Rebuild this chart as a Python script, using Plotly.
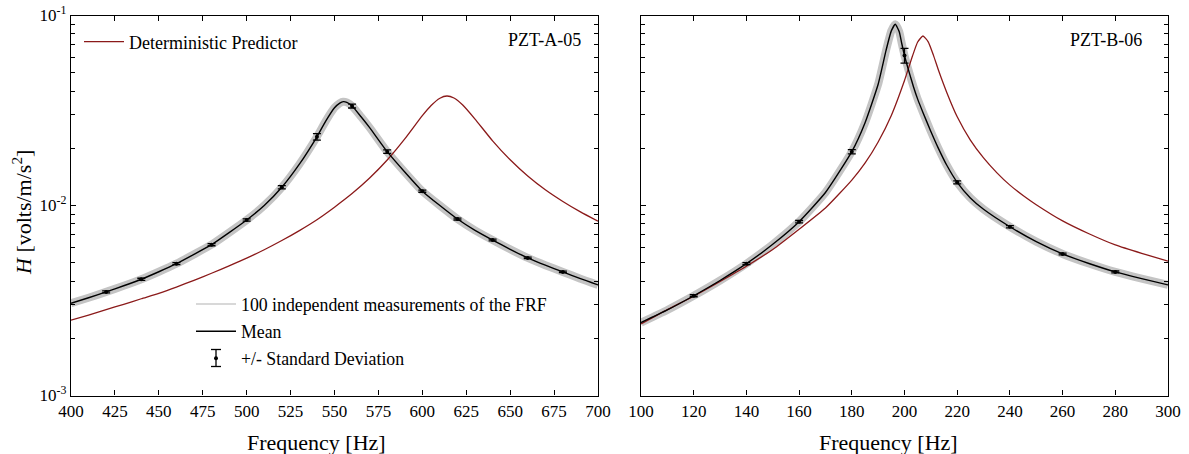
import plotly.graph_objects as go

# ---------------- data ----------------
# PZT-A-05 : measured mean FRF
freq_a = [400, 410, 420, 430, 440, 450, 460, 470, 480, 490, 500, 510, 520, 530, 540,
          545, 550, 553, 555, 557, 560, 565, 570, 580, 590, 600, 610, 620, 630, 640,
          650, 660, 670, 680, 690, 700]
mean_a = [0.00306, 0.00327, 0.00351, 0.00378, 0.00409, 0.00448, 0.00494, 0.00553,
          0.00622, 0.00720, 0.00839, 0.0100, 0.01247, 0.0165, 0.0230, 0.0278, 0.0327,
          0.0346, 0.0352, 0.0349, 0.0334, 0.0294, 0.0257, 0.0192, 0.0150, 0.0119,
          0.0100, 0.00849, 0.00740, 0.00658, 0.00588, 0.00530, 0.00485, 0.00447,
          0.00412, 0.00382]
# PZT-A-05 : deterministic prediction
pred_freq_a = [400, 410, 420, 430, 440, 450, 460, 470, 480, 490, 500, 510, 520, 530,
               540, 550, 560, 570, 580, 590, 600, 605, 610, 614, 618, 623, 630, 640,
               650, 660, 670, 680, 690, 700]
pred_a = [0.00249, 0.00265, 0.00283, 0.00302, 0.00323, 0.00345, 0.00372, 0.00404,
          0.00440, 0.00481, 0.00528, 0.00585, 0.00654, 0.00738, 0.00842, 0.00980,
          0.01155, 0.01395, 0.01735, 0.0224, 0.0297, 0.0336, 0.0367, 0.0377, 0.0368,
          0.0338, 0.0285, 0.0219, 0.0174, 0.0143, 0.0121, 0.0105, 0.00925, 0.00826]
# PZT-A-05 : mean +/- standard deviation markers
err_freq_a = [420, 440, 460, 480, 500, 520, 540, 560, 580, 600, 620, 640, 660, 680]
err_mean_a = [0.00351, 0.00409, 0.00494, 0.00622, 0.00839, 0.01247, 0.0230, 0.0334,
              0.0192, 0.0119, 0.00849, 0.00658, 0.00530, 0.00447]
err_std_a = [0.00004, 0.00005, 0.00006, 0.00008, 0.00012, 0.00025, 0.0009, 0.0008,
             0.0004, 0.00016, 0.0001, 0.00007, 0.00005, 0.00004]

# PZT-B-06 : measured mean FRF
freq_b = [100, 110, 120, 130, 140, 150, 160, 170, 180, 185, 190, 193, 195, 196.5,
          198, 199, 200, 201, 202, 203.4, 205, 207, 209.8, 213, 216, 220, 225, 230,
          240, 250, 260, 270, 280, 290, 300]
mean_b = [0.00242, 0.00282, 0.00335, 0.00403, 0.00494, 0.00625, 0.00822, 0.0117,
          0.0192, 0.0272, 0.0435, 0.0655, 0.0830, 0.0899, 0.0822, 0.0708, 0.0616,
          0.0547, 0.0490, 0.0422, 0.0363, 0.0309, 0.0249, 0.0198, 0.01633, 0.01324,
          0.01096, 0.00955, 0.00773, 0.00645, 0.00556, 0.00495, 0.00447, 0.00412,
          0.00382]
# PZT-B-06 : deterministic prediction
pred_freq_b = [100, 110, 120, 130, 140, 150, 160, 170, 180, 185, 190, 195, 200, 203,
               205, 207, 209, 211, 213, 216, 220, 225, 230, 235, 240, 245, 250, 260,
               270, 280, 290, 300]
pred_b = [0.00238, 0.00283, 0.00333, 0.00398, 0.00479, 0.00587, 0.00750, 0.00970,
          0.0136, 0.0167, 0.0216, 0.0298, 0.0455, 0.0610, 0.0725, 0.0780, 0.0727,
          0.0617, 0.0510, 0.0395, 0.0293, 0.0221, 0.0178, 0.0149, 0.0128, 0.0113,
          0.0101, 0.0083, 0.0071, 0.0062, 0.0056, 0.0051]
# PZT-B-06 : mean +/- standard deviation markers
err_freq_b = [120, 140, 160, 180, 200, 220, 240, 260, 280]
err_mean_b = [0.00335, 0.00494, 0.00822, 0.0192, 0.0616, 0.01324, 0.00773, 0.00556,
              0.00447]
err_std_b = [0.00004, 0.00006, 0.00012, 0.0005, 0.0055, 0.00025, 0.0001, 0.00006,
             0.00005]

# axis tick labels
xticks_a = [400, 425, 450, 475, 500, 525, 550, 575, 600, 625, 650, 675, 700]
xticks_b = [100, 120, 140, 160, 180, 200, 220, 240, 260, 280, 300]
yticks = [1e-3, 1e-2, 1e-1]
yticklabels = ["10<sup>-3</sup>", "10<sup>-2</sup>", "10<sup>-1</sup>"]
yminor = [m * 10.0 ** e for e in (-3, -2) for m in range(2, 10)]

# ---------------- styling ----------------
FONT = "Liberation Serif"
W, H = 1189, 454
BAND = "#c4c4c4"
RED = "#8b1a1a"


def px_x(p):
    """screen pixel (reference) -> paper x"""
    return p / W


def px_y(p):
    """screen pixel (reference) -> paper y"""
    return 1 - p / H


fig = go.Figure()

for xa, ya, fx, fy, px_, py_, ex, ey, es in [
    ("x", "y", freq_a, mean_a, pred_freq_a, pred_a, err_freq_a, err_mean_a, err_std_a),
    ("x2", "y2", freq_b, mean_b, pred_freq_b, pred_b, err_freq_b, err_mean_b, err_std_b),
]:
    first = xa == "x"
    # band of the 100 measurements
    fig.add_trace(go.Scatter(x=fx, y=fy, xaxis=xa, yaxis=ya, mode="lines",
                             line=dict(color=BAND, width=8, shape="spline", smoothing=0.5),
                             showlegend=False, hoverinfo="skip"))
    # deterministic predictor
    fig.add_trace(go.Scatter(x=px_, y=py_, xaxis=xa, yaxis=ya, mode="lines",
                             name="Deterministic Predictor",
                             line=dict(color=RED, width=1.3, shape="spline", smoothing=0.5),
                             showlegend=first, legend="legend"))
    if first:
        fig.add_trace(go.Scatter(x=[None], y=[None], xaxis=xa, yaxis=ya, mode="lines",
                                 name="100 independent measurements of the FRF",
                                 line=dict(color="#d8d8d8", width=2),
                                 legend="legend2", legendgroup="g1", showlegend=True))
    # mean
    fig.add_trace(go.Scatter(x=fx, y=fy, xaxis=xa, yaxis=ya, mode="lines", name="Mean",
                             line=dict(color="black", width=1.4, shape="spline", smoothing=0.5),
                             legend="legend2", legendgroup="g2", showlegend=first))
    # error bars
    fig.add_trace(go.Scatter(x=ex, y=ey, xaxis=xa, yaxis=ya, mode="markers",
                             name="+/- Standard Deviation",
                             marker=dict(color="black", size=4),
                             error_y=dict(type="data", array=es, color="black",
                                          thickness=1.3, width=4),
                             legend="legend2", legendgroup="g3", showlegend=first))

axis_common = dict(showgrid=False, zeroline=False, showline=True, linecolor="black",
                   linewidth=1.3, mirror="ticks", ticks="inside", tickcolor="black",
                   tickwidth=1.1, ticklen=5, automargin=False,
                   tickfont=dict(family=FONT, size=17, color="black"))

# I-beam symbol for the "+/- Standard Deviation" legend entry
IB_X, IB_Y, IB_HALF, IB_CAP = 216, 358, 8.5, 5
legend_shapes = [
    dict(type="line", xref="paper", yref="paper",
         x0=px_x(IB_X), x1=px_x(IB_X), y0=px_y(IB_Y - IB_HALF), y1=px_y(IB_Y + IB_HALF),
         line=dict(color="black", width=1.3)),
    dict(type="line", xref="paper", yref="paper",
         x0=px_x(IB_X - IB_CAP), x1=px_x(IB_X + IB_CAP),
         y0=px_y(IB_Y - IB_HALF), y1=px_y(IB_Y - IB_HALF),
         line=dict(color="black", width=1.3)),
    dict(type="line", xref="paper", yref="paper",
         x0=px_x(IB_X - IB_CAP), x1=px_x(IB_X + IB_CAP),
         y0=px_y(IB_Y + IB_HALF), y1=px_y(IB_Y + IB_HALF),
         line=dict(color="black", width=1.3)),
]

fig.update_layout(
    template="none",
    width=W, height=H, autosize=False,
    margin=dict(l=0, r=0, t=0, b=0, pad=0),
    paper_bgcolor="white", plot_bgcolor="white",
    font=dict(family=FONT, color="black"),
    xaxis=dict(domain=[px_x(71), px_x(598)], range=[400, 700], tickvals=xticks_a,
               anchor="y", **axis_common),
    xaxis2=dict(domain=[px_x(641), px_x(1168)], range=[100, 300], tickvals=xticks_b,
                anchor="y2", **axis_common),
    yaxis=dict(domain=[px_y(395.5), px_y(15.5)], type="log", range=[-3, -1],
               tickvals=yticks, ticktext=yticklabels, anchor="x",
               ticklabeloverflow="allow",
               minor=dict(tickvals=yminor, ticks="inside", ticklen=4,
                          tickcolor="black", tickwidth=1),
               **axis_common),
    yaxis2=dict(domain=[px_y(395.5), px_y(15.5)], type="log", range=[-3, -1],
                tickvals=yticks, ticktext=yticklabels, showticklabels=False, anchor="x2",
                minor=dict(tickvals=yminor, ticks="inside", ticklen=4,
                           tickcolor="black", tickwidth=1),
                **axis_common),
    legend=dict(x=px_x(79), y=px_y(23.5), xanchor="left", yanchor="top",
                bgcolor="rgba(0,0,0,0)", borderwidth=0, itemwidth=40,
                font=dict(family=FONT, size=18, color="black")),
    legend2=dict(x=px_x(191), y=px_y(286), xanchor="left", yanchor="top",
                 bgcolor="rgba(0,0,0,0)", borderwidth=0, itemwidth=40,
                 tracegroupgap=1,
                 font=dict(family=FONT, size=17.8, color="black")),
    shapes=legend_shapes,
    annotations=[
        dict(text="PZT-A-05", x=px_x(583), y=px_y(40), xref="paper", yref="paper",
             xanchor="right", yanchor="middle", showarrow=False,
             font=dict(family=FONT, size=18, color="black")),
        dict(text="PZT-B-06", x=px_x(1144), y=px_y(40), xref="paper", yref="paper",
             xanchor="right", yanchor="middle", showarrow=False,
             font=dict(family=FONT, size=18, color="black")),
        dict(text="Frequency [Hz]", x=px_x(316), y=px_y(442), xref="paper", yref="paper",
             xanchor="center", yanchor="middle", showarrow=False,
             font=dict(family=FONT, size=22, color="black")),
        dict(text="Frequency [Hz]", x=px_x(888), y=px_y(442), xref="paper", yref="paper",
             xanchor="center", yanchor="middle", showarrow=False,
             font=dict(family=FONT, size=22, color="black")),
        dict(text="<i>H</i> [volts/m/s<sup>2</sup>]", x=px_x(22), y=px_y(213),
             xref="paper", yref="paper", xanchor="center", yanchor="middle",
             textangle=-90, showarrow=False,
             font=dict(family=FONT, size=22, color="black")),
    ],
)

# remove the default 8px page margin so the figure fills the window exactly
fig.write_html("out.html",
               config={"displayModeBar": False},
               post_script="document.body.style.margin='0';"
                           "document.body.style.padding='0';")
